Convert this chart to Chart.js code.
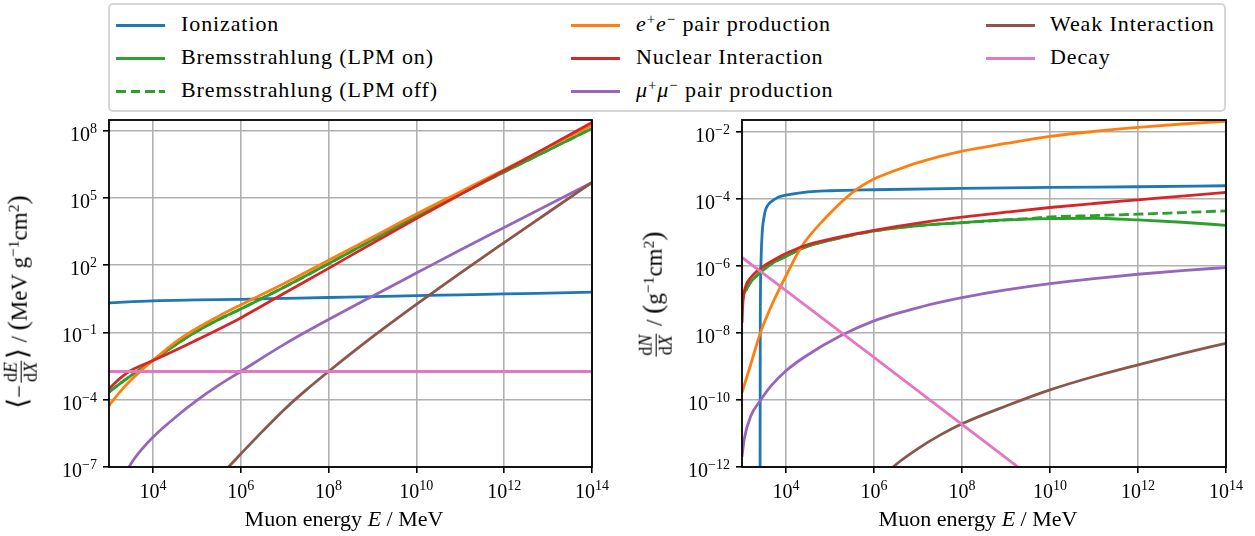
<!DOCTYPE html>
<html>
<head>
<meta charset="utf-8">
<script src="https://cdn.jsdelivr.net/npm/chart.js@4.4.1/dist/chart.umd.min.js"></script>
<style>
html,body{margin:0;padding:0;background:#fff;}
body{width:1255px;height:536px;position:relative;overflow:hidden;font-family:"Liberation Serif","DejaVu Serif",serif;color:#000;}
canvas{position:absolute;}
#legendBox{position:absolute;left:108px;top:3px;width:1114px;height:105px;border:2px solid #d6d6d6;border-radius:5px;background:#fff;}
.lgText{position:absolute;font-size:22px;line-height:24px;letter-spacing:0.9px;white-space:nowrap;}
.lgLine{position:absolute;width:49px;height:3px;}
sup{font-size:0.68em;vertical-align:0.5em;line-height:0;}
.ytitle{position:absolute;transform:translate(-50%,-50%) rotate(-90deg);white-space:nowrap;font-size:23px;line-height:30px;}
.xtitle{position:absolute;transform:translateX(-50%);white-space:nowrap;font-size:22px;line-height:24px;}
.frac{display:inline-flex;flex-direction:column;vertical-align:middle;font-size:0.78em;line-height:1.05;text-align:center;margin:0 2px;}
.frac span:first-child{border-bottom:1px solid #000;padding:0 1px;}
.big{font-size:1.2em;font-weight:normal;}
.tick{position:absolute;font-size:20px;line-height:20px;white-space:nowrap;}
.tx{transform:translateX(-50%);}
.ty{transform:translateY(-50%);}
sup.tk{font-size:14px;vertical-align:8px;line-height:0;}
</style>
</head>
<body>
<div id="legendBox"></div>
<div id="legendItems"></div>
<canvas id="cL" width="620" height="426" style="left:0px;top:110px;width:620px;height:426px"></canvas>
<canvas id="cR" width="625" height="426" style="left:630px;top:110px;width:625px;height:426px"></canvas>
<div class="ytitle" style="left:21px;top:302px"><span class="big">⟨</span>−<span class="frac"><span>d<i>E</i></span><span>d<i>X</i></span></span><span class="big">⟩</span> / <span class="big">(</span>MeV g<sup>−1</sup>cm<sup>2</sup><span class="big">)</span></div>
<div class="ytitle" style="left:656px;top:295px"><span class="frac"><span>d<i>N</i></span><span>d<i>X</i></span></span> / <span class="big">(</span>g<sup>−1</sup>cm<sup>2</sup><span class="big">)</span></div>
<div class="xtitle" style="left:344px;top:507px">Muon energy <i>E</i> / MeV</div>
<div class="xtitle" style="left:978px;top:507px">Muon energy <i>E</i> / MeV</div>
<script>
// ---------- tick values and labels ----------
const xTickValues = [1e4, 1e6, 1e8, 1e10, 1e12, 1e14];
const xTickLabels = ['10^4', '10^6', '10^8', '10^10', '10^12', '10^14'];
const yTickValuesLeft = [1e-7, 1e-4, 1e-1, 1e2, 1e5, 1e8];
const yTickLabelsLeft = ['10^−7', '10^−4', '10^−1', '10^2', '10^5', '10^8'];
const yTickValuesRight = [1e-12, 1e-10, 1e-8, 1e-6, 1e-4, 1e-2];
const yTickLabelsRight = ['10^−12', '10^−10', '10^−8', '10^−6', '10^−4', '10^−2'];

// ---------- series names ----------
const seriesNames = ['Ionization', 'Bremsstrahlung (LPM on)', 'Bremsstrahlung (LPM off)',
  'e+e− pair production', 'Nuclear Interaction', 'μ+μ− pair production', 'Weak Interaction', 'Decay'];

// ---------- left panel: energy loss <-dE/dX> (MeV g^-1 cm^2) ----------
const eDecades = [1e3, 1e4, 1e5, 1e6, 1e7, 1e8, 1e9, 1e10, 1e11, 1e12, 1e13, 1e14];
const lossIonization = [2.09, 2.57, 2.82, 3.02, 3.31, 3.63, 3.98, 4.37, 4.79, 5.25, 5.75, 6.31];

const eLossGrid = [1e3, 1.78e3, 3.16e3, 5.62e3, 1e4, 3.16e4, 1e5, 3.16e5, 1e6, 1e7, 1e8, 1e9, 1e10, 1e11, 1e12, 1e13, 1e14];
const lossBrems = [2.19e-4, 5.25e-4, 1.20e-3, 2.63e-3, 5.62e-3, 2.69e-2, 0.112, 0.380, 1.12, 10.7, 117, 1350, 1.51e4, 1.51e5, 1.45e6, 1.35e7, 1.26e8];
const lossBremsNoLPM = [2.19e-4, 5.25e-4, 1.20e-3, 2.63e-3, 5.62e-3, 2.69e-2, 0.112, 0.380, 1.12, 10.7, 117, 1350, 1.51e4, 1.51e5, 1.45e6, 1.35e7, 1.26e8];
const lossPair = [5.5e-5, 2.24e-4, 7.59e-4, 2.14e-3, 5.62e-3, 3.55e-2, 0.155, 0.537, 1.70, 15.8, 166, 1780, 1.91e4, 1.86e5, 1.82e6, 1.82e7, 1.78e8];
const lossNuclear = [3.09e-4, 8.91e-4, 2.04e-3, 3.47e-3, 5.62e-3, 1.58e-2, 4.68e-2, 0.141, 0.447, 5.75, 72.4, 955, 1.20e4, 1.41e5, 1.66e6, 1.95e7, 2.34e8];

const eMuPairLoss = [2.24e3, 3.16e3, 5.62e3, 1e4, 3.16e4, 1e5, 3.16e5, 1e6, 3.16e6, 1e7, 3.16e7, 1e8, 1e9, 1e10, 1e11, 1e12, 1e13, 1e14];
const lossMuPair = [3.98e-8, 1.41e-7, 6.31e-7, 2.14e-6, 1.58e-5, 9.33e-5, 4.47e-4, 1.82e-3, 7.59e-3, 3.02e-2, 0.110, 0.380, 4.17, 44.7, 479, 4790, 4.9e4, 4.9e5];

const eWeakLoss = [3.98e5, 1e6, 3.16e6, 1e7, 3.16e7, 1e8, 1e9, 1e10, 1e11, 1e12, 1e13, 1e14];
const lossWeak = [5.62e-8, 3.80e-7, 3.98e-6, 3.80e-5, 2.82e-4, 1.82e-3, 6.31e-2, 1.78, 44.7, 1020, 2.24e4, 4.9e5];

const eDecayLoss = [1e3, 1e6, 1e10, 1e14];
const lossDecay = [1.82e-3, 1.82e-3, 1.82e-3, 1.82e-3];

// ---------- right panel: interaction rate dN/dX (g^-1 cm^2) ----------
const eIonRate = [2570, 2600, 2690, 2880, 3160, 3470, 3980, 4570, 6460, 1e4, 3.16e4, 1e5, 1e6, 1e8, 1e10, 1e12, 1e14];
const rateIonization = [1e-13, 1e-8, 1e-6, 1e-5, 2.82e-5, 4.9e-5, 6.76e-5, 8.13e-5, 1.10e-4, 1.29e-4, 1.62e-4, 1.74e-4, 1.86e-4, 2.04e-4, 2.19e-4, 2.29e-4, 2.45e-4];

const eBremsRate = [1e3, 1072, 1259, 1585, 2512, 4677, 1e4, 2.63e4, 1.51e5, 1e6, 1.2e7, 1e8, 1e9, 1e10, 1e11, 1e12, 1e13, 1e14];
const rateBrems = [7.08e-8, 1.26e-7, 2.0e-7, 3.31e-7, 6.03e-7, 1.15e-6, 1.91e-6, 3.55e-6, 6.61e-6, 1.10e-5, 1.62e-5, 1.95e-5, 2.34e-5, 2.57e-5, 2.63e-5, 2.34e-5, 2.0e-5, 1.62e-5];

const eBremsNoLPMRate = [1e3, 1072, 1259, 1585, 2512, 4677, 1e4, 2.63e4, 1.51e5, 1e6, 1.2e7, 1e8, 1e9, 3.16e9, 1e10, 1e11, 1e12, 1e13, 1e14];
const rateBremsNoLPM = [7.08e-8, 1.26e-7, 2.0e-7, 3.31e-7, 6.03e-7, 1.15e-6, 1.91e-6, 3.55e-6, 6.61e-6, 1.10e-5, 1.62e-5, 1.95e-5, 2.34e-5, 2.57e-5, 2.88e-5, 3.16e-5, 3.47e-5, 3.89e-5, 4.37e-5];

const ePairRate = [1e3, 1620, 2630, 4680, 1e4, 2.19e4, 7.41e4, 3.16e5, 1e6, 3.16e6, 1e7, 1e8, 1e9, 1e10, 1e11, 1e12, 1e13, 1e14];
const ratePair = [1.66e-10, 1.29e-9, 1.02e-8, 6.46e-8, 5.01e-7, 3.55e-6, 2.45e-5, 1.51e-4, 3.89e-4, 7.08e-4, 1.20e-3, 2.63e-3, 4.47e-3, 7.24e-3, 1.02e-2, 1.35e-2, 1.70e-2, 2.04e-2];

const eNuclearRate = [1e3, 1047, 1122, 1259, 1585, 2239, 3162, 5623, 1e4, 2.63e4, 1.51e5, 1e6, 1.2e7, 1e8, 1e9, 1e10, 1e11, 1e12, 1e13, 1e14];
const rateNuclear = [2.0e-8, 7.94e-8, 1.66e-7, 2.82e-7, 4.47e-7, 7.08e-7, 1.0e-6, 1.58e-6, 2.34e-6, 3.98e-6, 7.08e-6, 1.15e-5, 1.95e-5, 2.82e-5, 3.98e-5, 5.5e-5, 7.24e-5, 9.33e-5, 1.20e-4, 1.55e-4];

const eMuPairRate = [1e3, 1122, 1585, 2570, 4571, 1e4, 2.63e4, 1.78e5, 1e6, 1.2e7, 1e8, 1e9, 1e10, 1e11, 1e12, 1e13, 1e14];
const rateMuPair = [2.0e-12, 6.76e-12, 3.31e-11, 9.33e-11, 2.63e-10, 7.41e-10, 1.91e-9, 8.32e-9, 2.29e-8, 6.03e-8, 1.12e-7, 1.91e-7, 2.95e-7, 4.17e-7, 5.62e-7, 7.24e-7, 8.91e-7];

const eWeakRate = [2.0e6, 2.57e6, 3.98e6, 1e7, 3.16e7, 1e8, 1e9, 1e10, 1e11, 1e12, 1e13, 1e14];
const rateWeak = [6.76e-13, 9.33e-13, 1.51e-12, 3.55e-12, 8.91e-12, 1.95e-11, 6.61e-11, 2.0e-10, 5.01e-10, 1.12e-9, 2.40e-9, 4.90e-9];

const eDecayRate = [1e3, 1e6, 1e8, 1e10];
const rateDecay = [1.78e-6, 1.86e-9, 1.86e-11, 1.86e-13];

// ---------- styles ----------
const COL = {ion:'#1f77b4', brems:'#2ca02c', pair:'#ff7f0e', nucl:'#d62728', mu:'#9467bd', weak:'#8c564b', decay:'#e377c2'};

function pts(xs, ys) { return xs.map((x, i) => ({x: x, y: ys[i]})); }
function ds(label, xs, ys, color, dashed, order) {
  return {
    label: label, data: pts(xs, ys), borderColor: color, backgroundColor: color,
    borderWidth: 2.8, borderDash: dashed ? [10, 4.5] : [], pointRadius: 0, fill: false,
    cubicInterpolationMode: 'monotone', clip: 0, order: order
  };
}

const framePlugin = {
  id: 'frame',
  afterDraw(chart) {
    const a = chart.chartArea, ctx = chart.ctx;
    ctx.save();
    ctx.strokeStyle = '#000';
    ctx.lineWidth = 1.8;
    ctx.strokeRect(a.left, a.top, a.right - a.left, a.bottom - a.top);
    ctx.restore();
  }
};

function makeOptions(yMin, yMax, yVals, yWidth, padRight) {
  return {
    responsive: false, animation: false, devicePixelRatio: 1, events: [],
    layout: {padding: {top: 10, right: padRight, bottom: 0, left: 0}},
    plugins: {legend: {display: false}, tooltip: {enabled: false}},
    scales: {
      x: {
        type: 'logarithmic', min: 1e3, max: 1e14, bounds: 'data',
        afterBuildTicks: s => { s.ticks = xTickValues.map(v => ({value: v})); },
        afterFit: s => { s.height = 69; s.paddingLeft = 0; s.paddingRight = 0; },
        ticks: {display: false},
        grid: {color: '#b0b0b0', lineWidth: 1.6, tickColor: '#000', tickLength: 6, tickWidth: 1.6, drawTicks: true},
        border: {display: false}
      },
      y: {
        type: 'logarithmic', min: yMin, max: yMax, bounds: 'data',
        afterBuildTicks: s => { s.ticks = yVals.map(v => ({value: v})); },
        afterFit: s => { s.width = yWidth; s.paddingTop = 0; s.paddingBottom = 0; },
        ticks: {display: false},
        grid: {color: '#b0b0b0', lineWidth: 1.6, tickColor: '#000', tickLength: 6, tickWidth: 1.6, drawTicks: true},
        border: {display: false}
      }
    }
  };
}

const chartL = new Chart(document.getElementById('cL'), {
  type: 'line',
  data: {datasets: [
    ds(seriesNames[0], eDecades, lossIonization, COL.ion, false, 8),
    ds(seriesNames[1], eLossGrid, lossBrems, COL.brems, false, 7),
    ds(seriesNames[2], eLossGrid, lossBremsNoLPM, COL.brems, true, 6),
    ds(seriesNames[3], eLossGrid, lossPair, COL.pair, false, 5),
    ds(seriesNames[4], eLossGrid, lossNuclear, COL.nucl, false, 4),
    ds(seriesNames[5], eMuPairLoss, lossMuPair, COL.mu, false, 3),
    ds(seriesNames[6], eWeakLoss, lossWeak, COL.weak, false, 2),
    ds(seriesNames[7], eDecayLoss, lossDecay, COL.decay, false, 1)
  ]},
  options: makeOptions(1e-7, 3.0e8, yTickValuesLeft, 109, 28),
  plugins: [framePlugin]
});

const chartR = new Chart(document.getElementById('cR'), {
  type: 'line',
  data: {datasets: [
    ds(seriesNames[0], eIonRate, rateIonization, COL.ion, false, 8),
    ds(seriesNames[1], eBremsRate, rateBrems, COL.brems, false, 7),
    ds(seriesNames[2], eBremsNoLPMRate, rateBremsNoLPM, COL.brems, true, 6),
    ds(seriesNames[3], ePairRate, ratePair, COL.pair, false, 5),
    ds(seriesNames[4], eNuclearRate, rateNuclear, COL.nucl, false, 4),
    ds(seriesNames[5], eMuPairRate, rateMuPair, COL.mu, false, 3),
    ds(seriesNames[6], eWeakRate, rateWeak, COL.weak, false, 2),
    ds(seriesNames[7], eDecayRate, rateDecay, COL.decay, false, 1)
  ]},
  options: makeOptions(1e-12, 2.24e-2, yTickValuesRight, 112, 29),
  plugins: [framePlugin]
});

// ---------- tick labels as HTML text, positioned by the chart scales ----------
function supHtml(lbl) { const p = lbl.split('^'); return p[0] + '<sup class="tk">' + p[1] + '</sup>'; }
function addTickLabels(chart, cx, cy, xVals, xLbls, yVals, yLbls) {
  const xs = chart.scales.x, ys = chart.scales.y, a = chart.chartArea;
  xVals.forEach((v, i) => {
    const d = document.createElement('div');
    d.className = 'tick tx';
    d.style.left = (cx + xs.getPixelForValue(v)) + 'px';
    d.style.top = (cy + a.bottom + 14) + 'px';
    d.innerHTML = supHtml(xLbls[i]);
    document.body.appendChild(d);
  });
  yVals.forEach((v, i) => {
    const d = document.createElement('div');
    d.className = 'tick ty';
    d.style.right = (1255 - (cx + a.left - 12)) + 'px';
    d.style.top = (cy + ys.getPixelForValue(v) + 3) + 'px';
    d.innerHTML = supHtml(yLbls[i]);
    document.body.appendChild(d);
  });
}
addTickLabels(chartL, 0, 110, xTickValues, xTickLabels, yTickValuesLeft, yTickLabelsLeft);
addTickLabels(chartR, 630, 110, xTickValues, xTickLabels, yTickValuesRight, yTickLabelsRight);

// ---------- legend (HTML) ----------
const legendLabelsHtml = [
  'Ionization', 'Bremsstrahlung (LPM on)', 'Bremsstrahlung (LPM off)',
  '<i>e</i><sup>+</sup><i>e</i><sup>−</sup> pair production', 'Nuclear Interaction',
  '<i>μ</i><sup>+</sup><i>μ</i><sup>−</sup> pair production', 'Weak Interaction', 'Decay'
];
const legendColors = [COL.ion, COL.brems, COL.brems, COL.pair, COL.nucl, COL.mu, COL.weak, COL.decay];
const legendDashed = [false, false, true, false, false, false, false, false];
const colLineX = [116, 571, 986];
const colTextX = [181, 636, 1050];
const rowY = [25, 58, 91];
const box = document.getElementById('legendItems');
legendLabelsHtml.forEach((html, i) => {
  const c = Math.floor(i / 3), r = i % 3;
  const line = document.createElement('div');
  line.className = 'lgLine';
  line.style.left = colLineX[c] + 'px';
  line.style.top = (rowY[r] - 1.5) + 'px';
  if (legendDashed[i]) {
    line.style.background = 'repeating-linear-gradient(90deg,' + legendColors[i] + ' 0 10px, transparent 10px 14.5px)';
  } else {
    line.style.background = legendColors[i];
  }
  box.appendChild(line);
  const t = document.createElement('div');
  t.className = 'lgText';
  t.style.left = colTextX[c] + 'px';
  t.style.top = (rowY[r] - 13) + 'px';
  t.innerHTML = html;
  box.appendChild(t);
});
</script>
</body>
</html>
